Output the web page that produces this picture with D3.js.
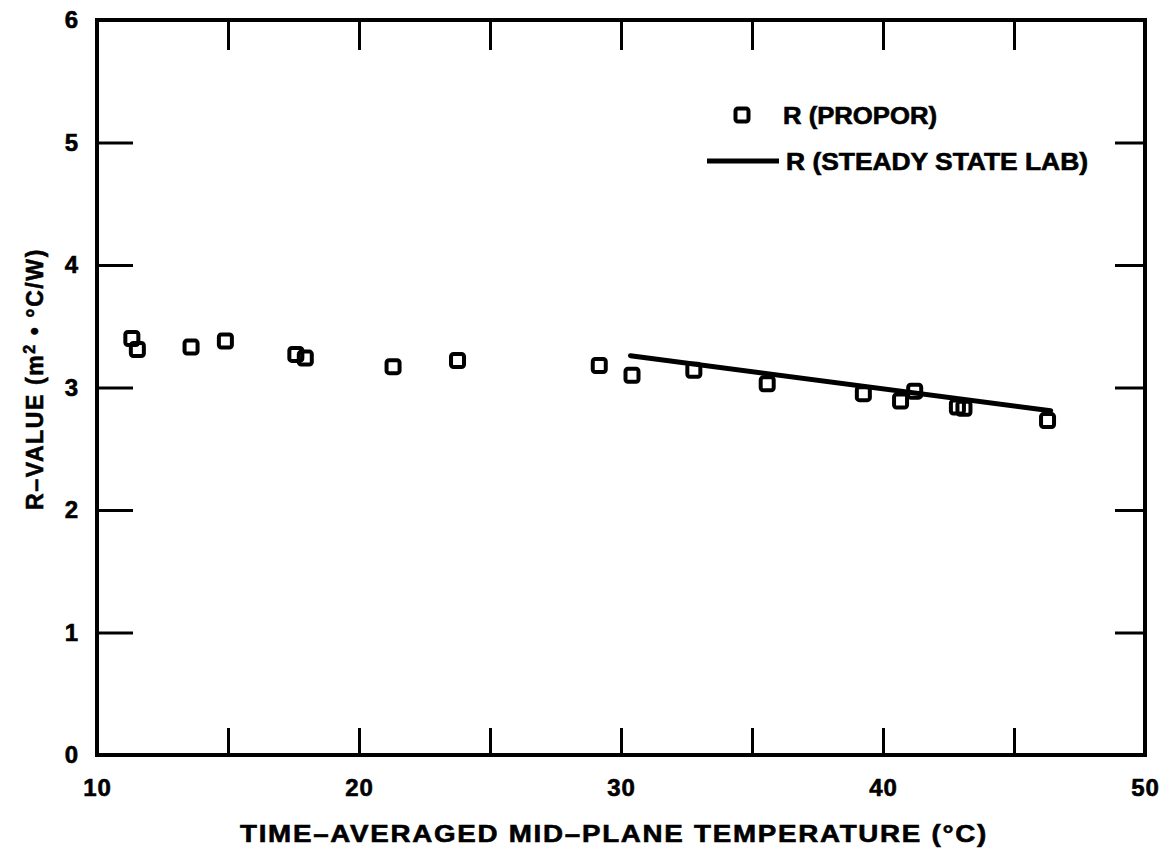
<!DOCTYPE html>
<html>
<head>
<meta charset="utf-8">
<script src="https://cdn.jsdelivr.net/npm/d3@7/dist/d3.min.js"></script>
<style>
  html, body { margin: 0; padding: 0; background: #fff; }
  svg { display: block; }
  text { font-family: "Liberation Sans", Arial, Helvetica, sans-serif; font-weight: bold;
         fill: #000; stroke: #000; stroke-width: 0.6px; }
</style>
</head>
<body>
<svg id="chart" width="1168" height="848"></svg>
<script>
// Measured R-value (PROPOR method) against time-averaged mid-plane temperature
const proporTemp = [11.33, 11.54, 13.59, 14.90, 17.59, 17.95, 21.30, 23.76, 29.17, 30.42,
                    32.78, 35.58, 39.25, 40.67, 41.21, 42.84, 43.09, 46.28];
const proporR    = [3.40, 3.31, 3.33, 3.38, 3.27, 3.24, 3.17, 3.22, 3.18, 3.10,
                    3.14, 3.03, 2.95, 2.89, 2.97, 2.84, 2.83, 2.73];

// Steady-state laboratory R-value line
const labTemp = [30.36, 46.4];
const labR    = [3.26, 2.81];

// Axis ticks
const xTicks = [10, 15, 20, 25, 30, 35, 40, 45, 50];
const xTickLabels = [10, 20, 30, 40, 50];
const yTicks = [0, 1, 2, 3, 4, 5, 6];

const legendLabels = ["R (PROPOR)", "R (STEADY STATE LAB)"];
const xTitle = "TIME\u2013AVERAGED MID\u2013PLANE TEMPERATURE (\u00B0C)";

const svg = d3.select("#chart");
const L = 97, R = 1145, T = 20, B = 755;

const x = d3.scaleLinear().domain([10, 50]).range([L, R]);
const y = d3.scaleLinear().domain([0, 6]).range([B, T]);

// Axes with inward ticks on all four sides
const fmtX = d => xTickLabels.includes(d) ? String(d) : "";
const axBottom = d3.axisBottom(x).tickValues(xTicks).tickFormat(fmtX)
  .tickSizeInner(-27).tickSizeOuter(0).tickPadding(33);
const axTop = d3.axisTop(x).tickValues(xTicks).tickFormat("")
  .tickSizeInner(-30).tickSizeOuter(0);
const axLeft = d3.axisLeft(y).tickValues(yTicks).tickFormat(d3.format("d"))
  .tickSizeInner(-36).tickSizeOuter(0).tickPadding(18);
const axRight = d3.axisRight(y).tickValues(yTicks).tickFormat("")
  .tickSizeInner(-30).tickSizeOuter(0);

function styleAxis(g) {
  g.select(".domain").remove();
  g.selectAll(".tick line").attr("stroke", "#000").attr("stroke-width", 3);
  g.selectAll(".tick text").style("font-size", "24px").attr("fill", "#000")
    .style("letter-spacing", "1px");
}

svg.append("g").attr("transform", `translate(0,${B})`).call(axBottom).call(styleAxis)
  .selectAll(".tick text").attr("dy", "0.35em");
svg.append("g").attr("transform", `translate(0,${T})`).call(axTop).call(styleAxis);
svg.append("g").attr("transform", `translate(${L},0)`).call(axLeft).call(styleAxis);
svg.append("g").attr("transform", `translate(${R},0)`).call(axRight).call(styleAxis);

// Plot frame
svg.append("rect")
  .attr("x", L).attr("y", T).attr("width", R - L).attr("height", B - T)
  .attr("fill", "none").attr("stroke", "#000").attr("stroke-width", 4);

// Steady-state lab line
const line = d3.line().x(d => x(d[0])).y(d => y(d[1]));
svg.append("path")
  .datum(labTemp.map((t, i) => [t, labR[i]]))
  .attr("d", line)
  .attr("fill", "none").attr("stroke", "#000").attr("stroke-width", 5)
  .attr("stroke-linecap", "round");

// PROPOR squares
const S = 13;
svg.append("g").selectAll("rect")
  .data(proporTemp.map((t, i) => [t, proporR[i]]))
  .join("rect")
  .attr("x", d => x(d[0]) - S / 2)
  .attr("y", d => y(d[1]) - S / 2)
  .attr("width", S).attr("height", S)
  .attr("rx", 2.5)
  .attr("fill", "none").attr("stroke", "#000").attr("stroke-width", 4);

// Legend
const lg = svg.append("g");
lg.append("rect").attr("x", 742 - S / 2).attr("y", 115 - S / 2)
  .attr("width", S).attr("height", S).attr("rx", 2.5)
  .attr("fill", "none").attr("stroke", "#000").attr("stroke-width", 4);
lg.append("text").attr("x", 783).attr("y", 124).style("font-size", "23px")
  .attr("textLength", 154).attr("lengthAdjust", "spacingAndGlyphs")
  .text(legendLabels[0]);
lg.append("line").attr("x1", 707).attr("x2", 779).attr("y1", 161).attr("y2", 161)
  .attr("stroke", "#000").attr("stroke-width", 5);
lg.append("text").attr("x", 786).attr("y", 170).style("font-size", "23px")
  .attr("textLength", 302).attr("lengthAdjust", "spacingAndGlyphs")
  .text(legendLabels[1]);

// Axis titles
svg.append("text").attr("x", 240).attr("y", 842).style("font-size", "24px")
  .style("letter-spacing", "1.5px")
  .attr("textLength", 748).attr("lengthAdjust", "spacingAndGlyphs")
  .text(xTitle);

const yt = svg.append("text")
  .attr("transform", "translate(43,379) rotate(-90)")
  .attr("text-anchor", "middle")
  .style("font-size", "23px").style("letter-spacing", "1.6px");
yt.append("tspan").text("R\u2013VALUE (m");
yt.append("tspan").attr("dy", -8).style("font-size", "16px").text("2");
yt.append("tspan").attr("dy", 8).text(" \u2022 \u00B0C/W)");
</script>
</body>
</html>
